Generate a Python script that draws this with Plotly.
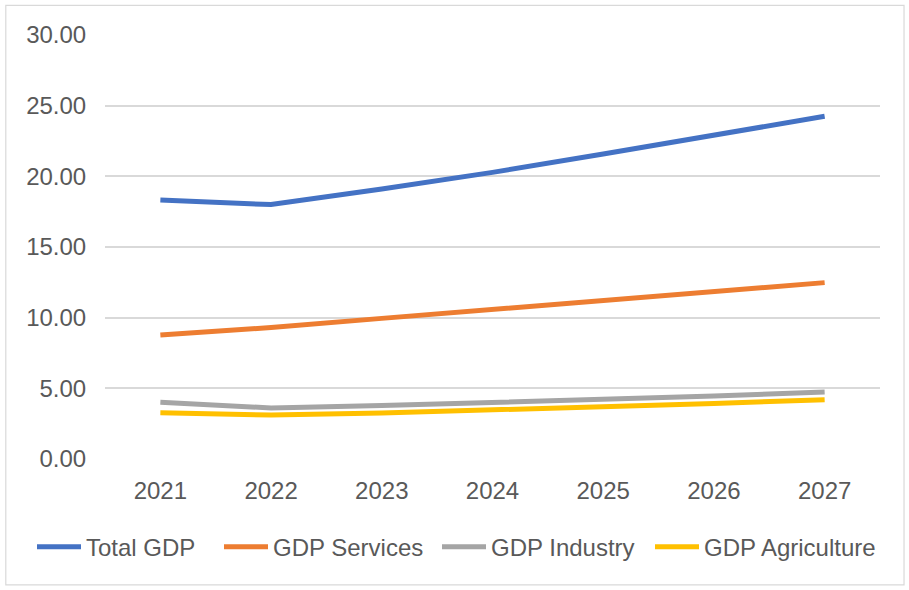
import plotly.graph_objects as go

years = ["2021", "2022", "2023", "2024", "2025", "2026", "2027"]
total_gdp = [18.33, 18.00, 19.10, 20.28, 21.58, 22.90, 24.25]
gdp_services = [8.78, 9.30, 9.95, 10.58, 11.20, 11.85, 12.48]
gdp_industry = [4.01, 3.61, 3.78, 3.98, 4.20, 4.45, 4.74]
gdp_agriculture = [3.28, 3.11, 3.25, 3.45, 3.68, 3.93, 4.20]

series = [
    ("Total GDP", total_gdp, "#4472C4"),
    ("GDP Services", gdp_services, "#ED7D31"),
    ("GDP Industry", gdp_industry, "#A5A5A5"),
    ("GDP Agriculture", gdp_agriculture, "#FFC000"),
]

font_family = "Liberation Sans, Arial, sans-serif"
text_color = "#595959"

# plot area geometry (px) used to place legend entries in paper coords
PLOT_L, PLOT_W = 105, 775
legend_px = [32, 219, 437, 650]
legend_ids = ["legend", "legend2", "legend3", "legend4"]

fig = go.Figure()
for (name, values, color), lid in zip(series, legend_ids):
    fig.add_trace(go.Scatter(
        x=years, y=values, name=name, mode="lines",
        line=dict(color=color, width=5), legend=lid,
    ))

legend_common = dict(
    orientation="h", xanchor="left", y=-0.155, yanchor="top",
    font=dict(size=24, color=text_color, family=font_family), itemwidth=44,
    bgcolor="rgba(0,0,0,0)",
)
legend_layout = {
    lid: dict(legend_common, x=(px - PLOT_L) / PLOT_W)
    for lid, px in zip(legend_ids, legend_px)
}

fig.update_layout(
    width=909, height=590,
    margin=dict(l=105, r=29, t=35, b=131),
    paper_bgcolor="white", plot_bgcolor="white",
    font=dict(family=font_family, size=24, color=text_color),
    showlegend=True,
    xaxis=dict(
        type="category", range=[-0.5, 6.5], showgrid=False, zeroline=False,
        showline=False, ticks="outside", ticklen=10, tickcolor="rgba(0,0,0,0)",
        tickfont=dict(size=24, color=text_color),
    ),
    yaxis=dict(
        range=[0, 30], tickvals=[0, 5, 10, 15, 20, 25, 30],
        tickformat=".2f", showgrid=True, gridcolor="#D9D9D9", gridwidth=1.5,
        zeroline=False, showline=False, ticks="outside", ticklen=13,
        tickcolor="rgba(0,0,0,0)", tickfont=dict(size=24, color=text_color),
    ),
    shapes=[dict(
        type="rect", xref="paper", yref="paper",
        x0=-0.128, x1=1.031, y0=-0.297, y1=1.070,
        line=dict(color="#D9D9D9", width=1.2), fillcolor="rgba(0,0,0,0)",
        layer="below",
    )],
    **legend_layout,
)

fig.write_html("out.html")
